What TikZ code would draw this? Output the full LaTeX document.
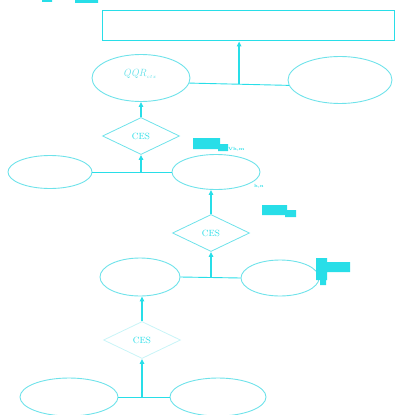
\documentclass[tikz,border=0pt]{standalone}
\usetikzlibrary{shapes.geometric,arrows.meta}
\definecolor{cy}{RGB}{40,222,232}
\definecolor{cyline}{RGB}{110,226,234}
\definecolor{cyfaint}{RGB}{200,244,247}
\tikzset{
  ov/.style 2 args={ellipse, draw=cyline, line width=0.9pt, inner sep=0pt,
    minimum width=#1, minimum height=#2},
  ces/.style={diamond, draw=cyline, line width=0.8pt, inner sep=0pt,
    minimum width=77pt, minimum height=37pt, text=cy,
    font=\fontsize{9}{10}\selectfont},
  link/.style={draw=cy, line width=0.9pt},
  up/.style={draw=cy, line width=1.3pt, -{Triangle[length=5pt,width=4.5pt]}},
  blob/.style={fill=cy, draw=none},
  tiny/.style={text=cy, inner sep=0pt, font=\fontsize{4.5}{5}\selectfont\bfseries},
}
\begin{document}
\begin{tikzpicture}[x=1pt,y=-1pt]
\useasboundingbox (0,0) rectangle (419,414);

% output box
\node[draw=cy, line width=1pt, inner sep=0pt, minimum width=292pt, minimum height=30pt] (top) at (248,26) {};

% upper level
\node[ov={98pt}{47pt}] (e1) at (141,78) {};
\node[ov={104pt}{47pt}] (e2) at (340,80) {};
\node[text=cyline, font=\fontsize{10.5}{11}\selectfont\itshape, inner sep=0pt] (q) at (140,74) {QQR$_{\scriptscriptstyle ctx}$};
\draw[link] (e1.-6) -- coordinate (j1) (e2.186);
\draw[up] (j1) -- (j1 |- top.south);

% first CES stage
\node[ces] (d1) at (141,136) {CES};
\draw[up] (d1.north) -- (e1.south);
\node[ov={84pt}{33pt}] (e3) at (50,172) {};
\node[ov={88pt}{35pt}] (e4) at (216,172) {};
\draw[link] (e3.east) -- (e4.west);
\coordinate (j2) at (d1.south |- e3.east);
\draw[up] (j2) -- (d1.south);
\fill[blob] (193,138) rectangle (220,149) (218,144) rectangle (228,151);
\node[tiny, anchor=west] (l1) at (228,149) {Vh,m};
\node[tiny, anchor=west] (l2) at (254,186) {h,n};

% second CES stage
\node[ces] (d2) at (211,233) {CES};
\draw[up] (d2.north) -- (d2.north |- e4.south);
\fill[blob] (262,205) rectangle (287,215) (285,210) rectangle (296,217);
\node[ov={80pt}{38pt}] (e5) at (140,277) {};
\node[ov={78pt}{36pt}] (e6) at (280,278) {};
\draw[link] (e5.east) -- (e6.west);
\coordinate (j3) at (d2.south |- e5.east);
\draw[up] (j3) -- (d2.south);
\fill[blob] (316,258) rectangle (327,280) (320,279) rectangle (326,285)
            (326,262) rectangle (350,272);

% third CES stage
\node[ces, draw=cyfaint] (d3) at (142,340) {CES};
\draw[up] (d3.north) -- (d3.north |- e5.south);
\node[ov={98pt}{38pt}] (e7) at (69,397) {};
\node[ov={96pt}{38pt}] (e8) at (218,397) {};
\draw[link] (e7.east) -- (e8.west);
\coordinate (j4) at (d3.south |- e7.east);
\draw[up] (j4) -- (d3.south);

% marks along the top edge
\fill[blob] (42,0) rectangle (52,2) (75,0) rectangle (98,3);
\end{tikzpicture}
\end{document}
